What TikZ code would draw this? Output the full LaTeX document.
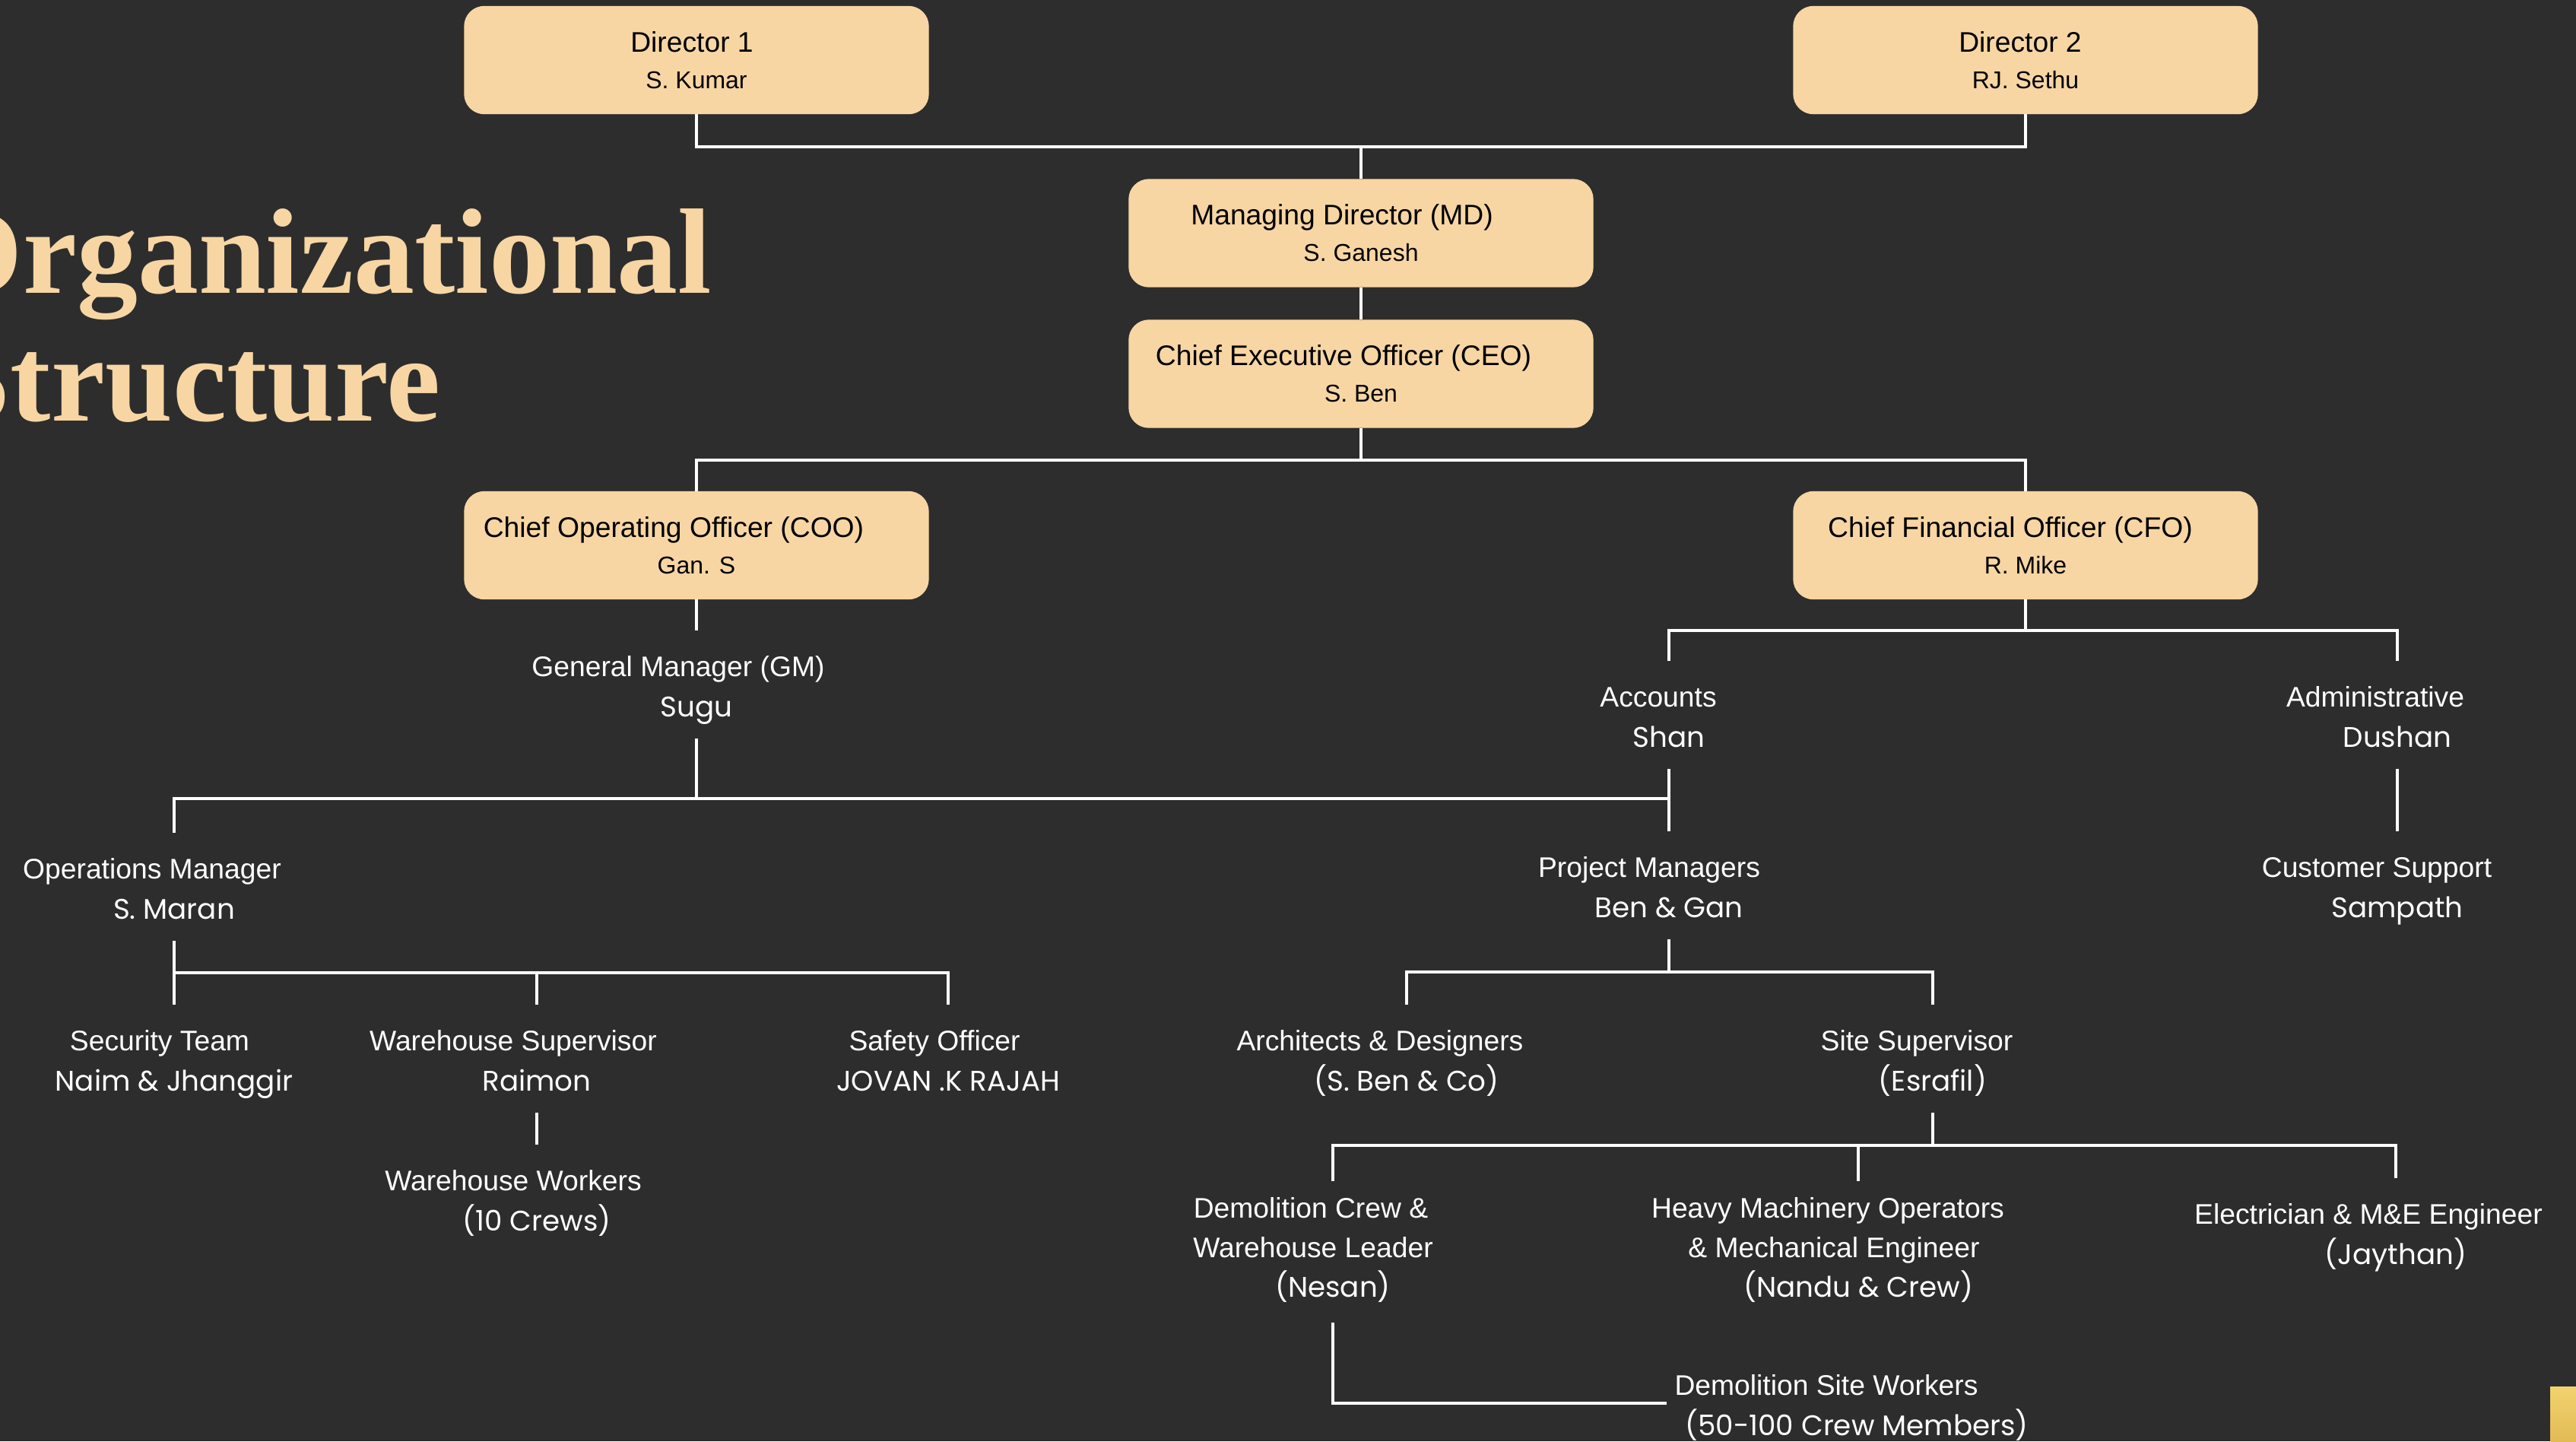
\documentclass[tikz,border=0pt]{standalone}
\usepackage{fontspec}
\setsansfont{Liberation Sans}
\newfontfamily\namefont{Poppins}
\newfontfamily\titlefont{Liberation Serif}
\definecolor{DarkGrey}{HTML}{2D2D2D}
\definecolor{LightPeach}{HTML}{F7D6A4}
\definecolor{LightGold}{HTML}{F1D36F}
\definecolor{DarkGold}{HTML}{E3BB55}
\newcommand{\padr}[1]{\hspace*{#1cm}\mbox{}}
\newcommand{\lead}[1]{\rule{0pt}{0.44cm}\hspace*{#1cm}\mbox{}}
\newcommand{\who}[1]{{\namefont #1\rule[-0.12cm]{0pt}{0pt}}}
\newcommand{\boxname}[1]{{\fontsize{9.1pt}{13.7pt}\selectfont #1}}
\tikzset{
  officer/.style={draw=LightPeach, fill=LightPeach, rounded corners=0.26cm,
    minimum width=6.1cm, minimum height=1.41cm, align=center, text=black,
    font=\sffamily\fontsize{10.6pt}{13.7pt}\selectfont},
  role/.style={text=white, align=center, minimum height=1.4cm,
    inner xsep=0.1cm, inner ysep=0pt,
    font=\sffamily\fontsize{10.6pt}{14.9pt}\selectfont},
  link/.style={draw=white, line width=0.9pt},
  title/.style={text=LightPeach, inner sep=0pt,
    font=\titlefont\bfseries\fontsize{45.5pt}{48pt}\selectfont}
}

\begin{document}
\begin{tikzpicture}
  \useasboundingbox (0,0) rectangle (33.88,-18.95);
  \fill[DarkGrey] (0,0) rectangle (33.88,-18.95);
  \clip (0,0) rectangle (33.88,-18.95);

  % title
  \node[title, anchor=base east] (orgtitle) at (9.37,-3.85) {Organizational};
  \node[title, anchor=base east] (structtitle) at (5.80,-5.53) {Structure};

  % board and officers
  \node[officer] (d1)  at (9.16,-0.79)   {Director 1\padr{0.12}\\ \boxname{S. Kumar}};
  \node[officer] (d2)  at (26.64,-0.79)  {Director 2\padr{0.14}\\ \boxname{RJ. Sethu}};
  \node[officer] (md)  at (17.90,-3.065) {Managing Director (MD)\padr{0.5}\\ \boxname{S. Ganesh}};
  \node[officer] (ceo) at (17.90,-4.915) {Chief Executive Officer (CEO)\padr{0.46}\\ \boxname{S. Ben}};
  \node[officer] (coo) at (9.16,-7.17)   {Chief Operating Officer (COO)\padr{0.6}\\ \boxname{Gan. S}};
  \node[officer] (cfo) at (26.64,-7.17)  {Chief Financial Officer (CFO)\padr{0.4}\\ \boxname{R. Mike}};

  % staff
  \node[role] (gm)    at (9.16,-9.00)   {General Manager (GM)\lead{0.48}\\ \who{Sugu}};
  \node[role] (acc)   at (21.95,-9.40)  {Accounts\lead{0.28}\\ \who{Shan}};
  \node[role] (adm)   at (31.53,-9.40)  {Administrative\lead{0.58}\\ \who{Dushan}};
  \node[role] (ops)   at (2.29,-11.66)  {Operations Manager\lead{0.58}\\ \who{S. Maran}};
  \node[role] (pm)    at (21.95,-11.64) {Project Managers\lead{0.52}\\ \who{Ben \& Gan}};
  \node[role] (cs)    at (31.53,-11.64) {Customer Support\lead{0.54}\\ \who{Sampath}};
  \node[role] (sec)   at (2.29,-13.92)  {Security Team\lead{0.38}\\ \who{Naim \& Jhanggir}};
  \node[role] (wsup)  at (7.06,-13.92)  {Warehouse Supervisor\lead{0.62}\\ \who{Raimon}};
  \node[role] (saf)   at (12.47,-13.92) {Safety Officer\lead{0.36}\\ \who{JOVAN .K RAJAH}};
  \node[role] (wwork) at (7.06,-15.76)  {Warehouse Workers\lead{0.62}\\ \who{(10 Crews)}};
  \node[role] (arch)  at (18.50,-13.92) {Architects \& Designers\lead{0.7}\\ \who{(S. Ben \& Co)}};
  \node[role] (site)  at (25.42,-13.92) {Site Supervisor\lead{0.42}\\ \who{(Esrafil)}};
  \node[role, minimum height=1.85cm] (demo) at (17.53,-16.46)
    {Demolition Crew \&\padr{0.58}\\ Warehouse Leader\padr{0.52}\\ \who{(Nesan)}};
  \node[role, minimum height=1.85cm] (heavy) at (24.44,-16.46)
    {Heavy Machinery Operators\padr{0.8}\\ \& Mechanical Engineer\padr{0.64}\\ \who{(Nandu \& Crew)}};
  \node[role] (elec)  at (31.51,-16.20) {Electrician \& M\&E Engineer\lead{0.72}\\ \who{(Jaythan)}};
  \node[role] (dsw)   at (24.42,-18.45) {Demolition Site Workers\lead{0.8}\\ \who{(50-100 Crew Members)}};

  % corner mark
  \shade[top color=LightGold, bottom color=DarkGold] (33.54,-18.23) rectangle (33.88,-18.95);

  % branch points
  \coordinate (dirbus)  at (17.90,-1.93);
  \coordinate (ceobus)  at (17.90,-6.05);
  \coordinate (cfobus)  at (26.64,-8.29);
  \coordinate (gmbus)   at (9.16,-10.50);
  \coordinate (opsbus)  at (2.29,-12.79);
  \coordinate (pmbus)   at (21.95,-12.78);
  \coordinate (sitebus) at (25.42,-15.06);

  \foreach \n in {d1,d2} \draw[link] (\n.south) |- (dirbus);
  \draw[link] (dirbus) -- (md);
  \draw[link] (md) -- (ceo);
  \draw[link] (ceo) -- (ceobus);
  \foreach \n in {coo,cfo} \draw[link] (\n.north) |- (ceobus);
  \draw[link] (coo) -- (gm);
  \draw[link] (cfo) -- (cfobus);
  \foreach \n in {acc,adm} \draw[link] (\n.north) |- (cfobus);
  \draw[link] (gm) -- (gmbus);
  \foreach \n in {ops,pm} \draw[link] (\n.north) |- (gmbus);
  \draw[link] (acc) -- (pm);
  \draw[link] (adm) -- (cs);
  \draw[link] (ops) -- (opsbus);
  \foreach \n in {sec,wsup,saf} \draw[link] (\n.north) |- (opsbus);
  \draw[link] (wsup) -- (wwork);
  \draw[link] (pm) -- (pmbus);
  \foreach \n in {arch,site} \draw[link] (\n.north) |- (pmbus);
  \draw[link] (site) -- (sitebus);
  \foreach \n in {demo,heavy,elec} \draw[link] (\n.north) |- (sitebus);
  \draw[link] (demo) |- (dsw.west);
\end{tikzpicture}
\end{document}
